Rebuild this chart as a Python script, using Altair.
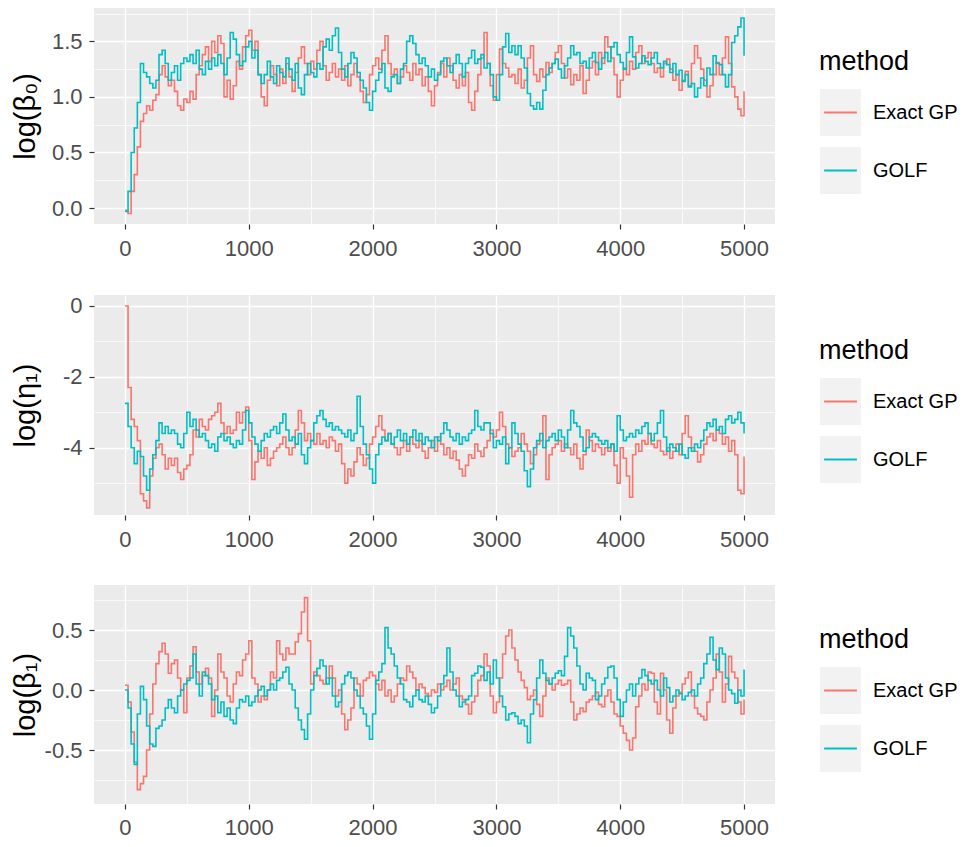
import altair as alt
import pandas as pd

# ---------------- data (one value every 25 iterations) ----------------
methods = ["Exact GP", "GOLF"]
colors = ["#F8766D", "#00BFC4"]

beta0_exact = [
    -0.02, -0.05, 0.15, 0.3, 0.55, 0.78, 0.85, 0.92, 0.88, 0.97,
    1.02, 1.2, 1.28, 1.18, 1.1, 1.15, 1.05, 0.92, 0.88, 0.98,
    0.95, 1.05, 0.98, 1.2, 1.28, 1.38, 1.45, 1.32, 1.5, 1.4,
    1.55, 1.48, 1.0, 1.15, 0.98, 1.1, 1.32, 1.25, 1.45, 1.55,
    1.6, 1.42, 1.5, 1.2, 1.0, 0.92, 1.15, 1.28, 1.2, 1.1,
    1.25, 1.12, 1.3, 1.18, 1.05, 1.22, 1.35, 1.45, 1.3, 1.2,
    1.32, 1.25, 1.42, 1.5, 1.28, 1.15, 1.22, 1.3, 1.18, 1.25,
    1.15, 1.28, 1.1, 1.2, 1.3, 1.18, 1.05, 0.95, 1.02, 1.2,
    1.28, 1.35, 1.25, 1.42, 1.55, 1.3, 1.2, 1.25, 1.12, 1.18,
    1.28, 1.22, 1.15, 1.3, 1.2, 1.25, 1.1, 1.18, 1.05, 0.92,
    1.1, 1.22, 1.3, 1.18, 1.35, 1.28, 1.15, 1.08, 1.2, 1.1,
    1.22, 0.95, 0.88, 1.05, 1.2, 1.35, 1.58, 1.3, 1.1, 0.97,
    1.2, 1.43, 1.3, 1.26, 1.18, 1.2, 1.12, 1.25, 1.08, 1.15,
    1.35, 1.46, 1.2, 1.14, 1.25, 1.18, 1.31, 1.22, 1.3, 1.4,
    1.46, 1.3, 1.17, 1.25, 1.11, 1.2, 1.15, 1.28, 1.03, 1.15,
    1.26, 1.32, 1.2, 1.4, 1.3, 1.54, 1.45, 1.35, 1.2, 1.0,
    1.15, 1.26, 1.2, 1.32, 1.25, 1.4, 1.46, 1.3, 1.35, 1.4,
    1.3, 1.22, 1.26, 1.18, 1.3, 1.34, 1.25, 1.15, 1.2, 1.06,
    1.15, 1.23, 1.1, 1.3, 1.46, 1.35, 1.25, 1.15, 1.0, 1.1,
    1.2, 1.31, 1.2, 1.35, 1.54, 1.3, 1.09, 1.0, 0.89, 0.83,
    1.05,
]
beta0_golf = [
    -0.03, 0.15, 0.5, 0.72, 0.95, 1.3, 1.22, 1.18, 1.12, 1.08,
    1.15, 1.38, 1.42, 1.3, 1.15, 1.22, 1.28, 1.15, 1.3, 1.35,
    1.32, 1.38, 1.3, 1.42, 1.25, 1.2, 1.32, 1.25, 1.35, 1.28,
    1.38, 1.3, 1.2, 1.35, 1.58, 1.52, 1.38, 1.28, 1.32, 1.45,
    1.5, 1.35, 1.42, 1.2, 1.12, 1.2, 1.32, 1.18, 1.12, 1.28,
    1.22, 1.18, 1.35, 1.25, 1.15, 1.3, 1.08, 1.02, 1.2, 1.3,
    1.22, 1.18, 1.3, 1.25, 1.45, 1.52, 1.42, 1.55, 1.62, 1.4,
    1.25, 1.18, 1.3, 1.4, 1.35, 1.22, 1.15, 1.08, 0.95, 0.88,
    1.05, 1.15, 1.22, 1.3, 1.08, 1.05, 1.18, 1.2, 1.12, 1.25,
    1.3, 1.5, 1.55, 1.48, 1.38, 1.3, 1.35, 1.28, 1.18, 1.25,
    1.15, 1.2, 1.32, 1.35, 1.28, 1.22, 1.3, 1.38, 1.3, 1.18,
    1.3, 1.35, 1.42, 1.3, 1.34, 1.38, 1.26, 1.3, 1.2, 1.0,
    0.97, 1.2, 1.45, 1.57, 1.4, 1.46, 1.38, 1.46, 1.35, 1.26,
    1.03, 0.92, 0.89, 0.95, 0.89, 1.06, 1.2, 1.26, 1.3, 1.34,
    1.25, 1.17, 1.28, 1.35, 1.46, 1.38, 1.4, 1.3, 1.32, 1.26,
    1.35, 1.4, 1.31, 1.25, 1.35, 1.4, 1.32, 1.45, 1.49, 1.38,
    1.31, 1.25, 1.4, 1.54, 1.36, 1.26, 1.3, 1.37, 1.32, 1.29,
    1.35, 1.4, 1.3, 1.26, 1.32, 1.29, 1.22, 1.3, 1.2, 1.24,
    1.14, 1.2, 1.09, 1.12, 1.0, 1.08, 1.17, 1.1, 1.26, 1.2,
    1.37, 1.3, 1.29, 1.2, 1.09, 1.2, 1.49, 1.55, 1.63, 1.71,
    1.37,
]
eta1_exact = [
    0.0, -2.3, -3.2, -3.4, -3.8, -5.3, -5.5, -5.7, -4.8, -4.3,
    -4.0, -3.9, -4.2, -4.6, -4.3, -4.5, -4.3, -4.7, -4.9, -4.6,
    -4.5, -4.2, -3.5, -3.7, -3.2, -3.4, -3.5, -3.2, -3.1, -3.0,
    -2.75, -3.3, -3.6, -3.4, -3.6, -3.5, -3.0, -3.3, -3.0, -2.85,
    -3.8, -4.9, -4.4, -4.1, -4.3, -4.0, -4.5, -4.3, -4.1, -4.0,
    -3.9, -3.7, -4.0, -4.2, -4.0, -3.5, -2.95, -3.3, -3.8, -3.6,
    -3.8, -3.9, -3.6, -3.9, -3.8, -4.0, -3.7, -3.8, -4.1, -3.9,
    -4.45, -5.0, -4.6, -4.8, -4.4, -4.0, -4.2, -4.5, -4.3, -3.9,
    -3.7, -3.4, -3.1, -3.5, -3.8, -3.6, -3.9, -4.0, -4.2, -4.0,
    -3.8, -4.1, -3.7, -3.9, -4.0, -3.8, -4.1, -4.3, -4.0, -3.8,
    -4.1, -3.7, -3.9, -4.2, -4.0, -4.3, -4.1, -4.35, -4.6, -4.8,
    -4.5, -4.2, -4.3, -3.9, -4.1, -4.25, -4.0, -3.8, -3.5, -3.7,
    -3.5, -3.0, -3.4, -3.9, -4.0, -4.25, -4.1, -4.0, -3.6, -3.9,
    -4.1, -4.45, -4.2, -3.9, -3.8, -3.1, -4.9, -4.2, -4.0, -3.9,
    -3.8, -4.1, -3.9, -4.0, -4.2, -3.9, -4.3, -4.6, -4.2, -3.5,
    -3.8, -4.1, -3.9, -4.0, -4.2, -4.0, -4.1, -3.9, -4.5, -5.0,
    -4.0, -4.3, -4.8, -5.4, -4.2, -3.9, -4.1, -3.8, -3.9, -3.6,
    -3.9, -4.0, -3.8, -4.1, -4.2, -4.0, -4.3, -4.1, -3.9, -4.2,
    -3.6, -3.1, -3.7, -4.0, -4.1, -4.4, -4.2, -3.9, -3.7, -3.6,
    -3.8, -3.5, -3.6, -3.9, -3.7, -4.1, -3.8, -4.2, -5.2, -5.3,
    -4.25,
]
eta1_golf = [
    -2.75, -3.4, -4.0, -4.45, -4.1, -4.25, -4.8, -5.2, -4.6, -4.2,
    -3.8, -3.3, -3.6, -3.4, -3.6, -3.5, -3.6, -3.9, -4.0, -3.6,
    -3.0, -3.4, -3.2, -3.5, -3.7, -3.6, -3.8, -4.0, -3.9, -4.1,
    -3.7, -3.6, -3.8, -3.7, -3.9, -4.0, -3.8, -3.9, -3.5, -2.95,
    -3.3, -3.7, -3.9, -4.1, -3.8, -3.6, -3.7, -3.5, -3.4, -3.6,
    -3.3, -3.05, -3.5, -3.8, -3.7, -3.9, -3.6, -4.2, -4.45, -4.0,
    -3.8, -3.3, -3.1, -2.95, -3.2, -3.4, -3.3, -3.5, -3.4, -3.5,
    -3.6, -3.7, -3.5, -3.8, -3.6, -2.55, -3.4, -3.9, -4.2, -4.6,
    -5.0, -4.2, -3.9, -3.7, -3.8, -3.6, -3.9, -3.7, -3.5, -3.8,
    -3.6, -3.9, -3.7, -3.5, -3.8, -3.6, -3.9, -3.7, -3.8, -4.0,
    -3.7, -3.8, -3.6, -3.3, -3.5, -3.7, -3.8, -3.6, -3.9, -3.7,
    -3.8, -3.6, -3.5, -2.95, -3.4, -3.5, -3.3, -3.3, -3.6, -4.0,
    -3.8, -3.9, -3.7, -4.45, -4.0, -3.3, -3.6, -3.9, -4.1, -4.65,
    -5.1, -4.6, -4.0, -3.8, -3.6, -4.0, -3.8, -3.7, -3.6, -3.8,
    -3.5, -3.7, -4.0, -3.5, -2.95, -3.3, -3.4, -3.7, -4.1, -4.0,
    -3.7, -3.6, -3.7, -3.8, -3.9, -3.8, -4.0, -3.9, -4.1, -3.1,
    -3.5, -3.8, -3.7, -3.6, -3.7, -3.5, -3.6, -3.4, -3.3, -3.6,
    -3.8, -3.6, -3.3, -2.95, -3.7, -4.1, -3.9, -4.0, -4.1, -3.9,
    -4.2, -4.3, -4.0, -4.1, -3.9, -4.0, -3.8, -3.5, -3.3, -3.4,
    -3.2, -3.5, -3.4, -3.6, -3.2, -3.1, -3.3, -3.2, -3.0, -3.3,
    -3.6,
]
beta1_exact = [
    0.04, -0.1, -0.35, -0.6, -0.83, -0.78, -0.72, -0.5, -0.2, 0.05,
    0.22, 0.32, 0.39, 0.3, 0.14, 0.22, 0.25, 0.1, 0.0, -0.19,
    0.1, 0.2, 0.36, 0.15, 0.05, 0.12, 0.18, 0.1, -0.22, 0.0,
    0.3, 0.15, 0.1, -0.05, -0.1, 0.05, 0.15, 0.12, 0.25, 0.3,
    0.41, 0.1, 0.05, -0.1, -0.05, -0.08, 0.0, 0.15, 0.1, 0.41,
    0.3, 0.25, 0.35, 0.3, 0.3, 0.4, 0.47, 0.65, 0.77, 0.41,
    0.05, 0.15, 0.12, 0.08, 0.05, 0.1, 0.2, 0.1, -0.05, 0.0,
    -0.2, -0.33, -0.25, -0.15, 0.1, 0.05, -0.05, 0.08, 0.1, 0.15,
    0.12, 0.05, 0.0, 0.08, -0.05, 0.0, -0.1, -0.05, 0.05, 0.1,
    0.08, 0.2, 0.15, 0.1, 0.0, 0.05, 0.02, -0.03, -0.05, 0.0,
    -0.02, 0.05, 0.0, 0.03, 0.08, 0.0, 0.05, 0.1, -0.05, -0.08,
    -0.12, -0.2, -0.1, -0.05, 0.08, 0.12, 0.3, 0.2, -0.05, -0.19,
    -0.1, 0.1, 0.3, 0.45, 0.5, 0.35, 0.25, 0.15, 0.08, 0.02,
    -0.08, -0.05, 0.0, -0.12, -0.22, -0.05, 0.1, 0.05, 0.0, 0.05,
    0.08, 0.04, 0.05, 0.08, -0.1, -0.25, -0.2, -0.15, -0.18, -0.1,
    -0.08, -0.05, -0.02, -0.12, -0.14, -0.05, 0.0, -0.1, -0.2, -0.22,
    -0.3, -0.36, -0.42, -0.5, -0.4, -0.14, -0.05, 0.05, 0.0, 0.15,
    0.14, -0.1, -0.2, 0.14, 0.0, -0.25, -0.36, -0.15, -0.05, -0.02,
    0.05, 0.1, 0.15, -0.05, -0.15, -0.2, -0.22, -0.25, -0.1, 0.0,
    0.1, 0.3, 0.15, -0.1, 0.05, 0.28, 0.15, 0.1, -0.1, -0.2,
    -0.08,
]
beta1_golf = [
    0.0, -0.15, -0.45, -0.62, -0.2, 0.03, -0.08, -0.3, -0.45, -0.47,
    -0.32, -0.3, -0.25, -0.15, -0.08, -0.15, -0.19, -0.05, 0.0, 0.05,
    0.08, 0.1, 0.3, 0.05, -0.05, 0.15, 0.12, 0.05, -0.08, -0.05,
    -0.19, -0.1, -0.22, -0.15, -0.25, -0.28, -0.15, -0.08, -0.1, -0.05,
    -0.13, -0.1, -0.05, 0.0, 0.03, -0.05, 0.0, 0.05, 0.0, 0.08,
    0.1, 0.15, 0.19, 0.05, 0.0, -0.15, -0.25, -0.33, -0.41, -0.2,
    0.0, 0.12, 0.18, 0.25, 0.2, 0.05, 0.1, -0.05, -0.14, -0.1,
    0.05, 0.12, 0.15, 0.1, 0.0, -0.05, -0.15, -0.2, -0.3, -0.41,
    -0.2, 0.08, 0.15, 0.22, 0.52, 0.35, 0.3, 0.2, 0.1, 0.05,
    -0.08, -0.1, -0.14, -0.05, 0.0, -0.08, -0.1, -0.05, -0.12, -0.19,
    -0.15, -0.05, 0.05, 0.12, 0.35, 0.15, 0.0, -0.05, -0.14, -0.1,
    -0.08, -0.05, 0.12, 0.14, 0.2, 0.19, 0.08, 0.15, 0.05, 0.25,
    0.1, -0.05, -0.14, -0.25, -0.2, -0.19, -0.22, -0.28, -0.25, -0.3,
    -0.44, -0.2, -0.08, 0.1, 0.25, 0.14, 0.08, 0.05, 0.1, 0.14,
    0.16, 0.12, 0.28, 0.52, 0.45, 0.35, 0.2, 0.05, 0.0, 0.14,
    0.1, 0.08, -0.08, -0.05, 0.05, 0.1, 0.19, 0.2, 0.1, -0.08,
    -0.22, -0.1, 0.0, 0.05, -0.05, 0.05, 0.1, 0.17, 0.12, 0.08,
    0.05, 0.08, 0.0, -0.05, 0.1, 0.02, -0.1, -0.05, 0.0, -0.03,
    -0.08, -0.05, -0.02, 0.0, -0.05, 0.05, 0.1, 0.22, 0.3, 0.44,
    0.25, 0.17, 0.35, 0.3, 0.1, 0.0, -0.03, -0.11, 0.0, -0.05,
    0.17,
]

x_ticks = list(range(0, 5001, 500))
STEP = 25

# ---------------- styling ----------------
FONT = "Liberation Sans, Arial, sans-serif"
KEY_GRAY = "#F2F2F2"
# legend key: grey box (filled) with a coloured line; the dash keeps the stroke on the line only
KEY_PATH = "M-0.8,0L1,0L1,-1.15L-1,-1.15L-1,1.15L1,1.15L1,0"
KEY_DASH = [32.8, 2000]


def long_df(exact, golf):
    return pd.DataFrame({
        "iter": [i * STEP for i in range(len(exact))] + [i * STEP for i in range(len(golf))],
        "value": exact + golf,
        "method": [methods[0]] * len(exact) + [methods[1]] * len(golf),
    })


def cond(test, a, b):
    return {"condition": {"test": test, "value": a}, "value": b}


def panel(df, ytitle, ydomain, yvalues, minor_test, yfmt, height, ly, xpad):
    xminor = "datum.value % 1000 != 0"
    xaxis = alt.Axis(
        values=x_ticks, title=None, domain=False,
        labelExpr=f"{xminor} ? '' : format(datum.value, 'd')",
        gridColor="white", gridWidth=cond(xminor, 0.7, 1.4),
        tickColor=cond(xminor, "transparent", "#333333"),
        tickSize=5, tickWidth=1.2, labelPadding=xpad,
        labelFont=FONT, labelFontSize=cond(xminor, 0, 22), labelColor="#4D4D4D",
        labelOverlap=False, labelFlush=False,
    )
    yaxis = alt.Axis(
        values=yvalues, title=ytitle, domain=False,
        labelExpr=f"{minor_test} ? '' : replace(format(datum.value, '{yfmt}'), '\u2212', '-')",
        gridColor="white", gridWidth=cond(minor_test, 0.7, 1.4),
        tickColor=cond(minor_test, "transparent", "#333333"),
        tickSize=5, tickWidth=1.2, labelPadding=7,
        labelFont=FONT, labelFontSize=cond(minor_test, 0, 22), labelColor="#4D4D4D",
        labelOverlap=False,
        titleFont=FONT, titleFontSize=29, titleFontWeight="normal",
        titleColor="black", titleX=-54,
    )
    legend = alt.Legend(
        orient="none", legendX=725, legendY=ly, padding=0,
        title="method", titleFont=FONT, titleFontSize=27, titleFontWeight="normal",
        titleColor="black", titlePadding=15,
        labelFont=FONT, labelFontSize=20, labelColor="black", labelOffset=11,
        symbolType=KEY_PATH, symbolSize=1681, symbolStrokeWidth=2,
        symbolFillColor=KEY_GRAY, symbolDash=KEY_DASH, symbolOpacity=1,
        rowPadding=1,
    )
    return alt.Chart(df).mark_line(strokeWidth=1.6, interpolate="step-after").encode(
        x=alt.X("iter:Q", scale=alt.Scale(domain=[-250, 5250], nice=False, zero=False), axis=xaxis),
        y=alt.Y("value:Q", scale=alt.Scale(domain=ydomain, nice=False, zero=False), axis=yaxis),
        color=alt.Color("method:N", scale=alt.Scale(domain=methods, range=colors), legend=legend),
    ).properties(width=681, height=height)


p1 = panel(long_df(beta0_exact, beta0_golf), "log(β₀)", [-0.144, 1.80],
           [0, 0.25, 0.5, 0.75, 1.0, 1.25, 1.5, 1.75],
           "abs(round(datum.value*4)) % 2 == 1", ".1f", 216, 41, 9)
p2 = panel(long_df(eta1_exact, eta1_golf), "log(η₁)", [-5.9, 0.31],
           [-5, -4, -3, -2, -1, 0],
           "abs(round(datum.value)) % 2 == 1", "d", 220, 43, 9)
p3 = panel(long_df(beta1_exact, beta1_golf), "log(β₁)", [-0.95, 0.875],
           [-0.75, -0.5, -0.25, 0, 0.25, 0.5, 0.75],
           "abs(round(datum.value*4)) % 2 == 1", ".1f", 219, 42, 8)

chart = (
    alt.vconcat(p1, p2, p3, spacing=35)
    .properties(padding={"left": 3, "top": 0, "right": 0, "bottom": 0})
    .resolve_scale(y="independent", color="independent")
    .configure_view(fill="#EBEBEB", strokeWidth=0)
)

chart.save("out.html", embed_options={"renderer": "svg", "actions": False})
